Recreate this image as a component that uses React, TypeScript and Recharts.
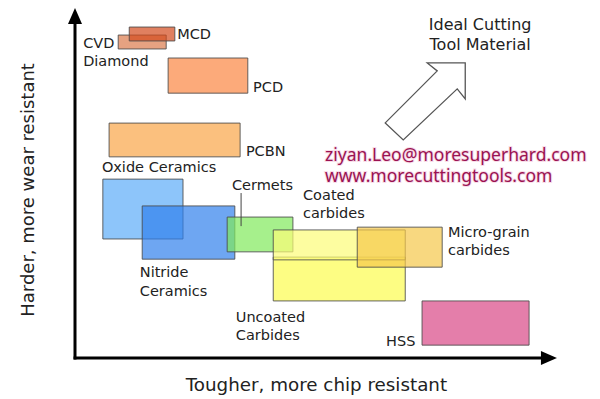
import React from "react";
import {
  ScatterChart,
  Scatter,
  XAxis,
  YAxis,
  ReferenceArea,
  ReferenceLine,
  ReferenceDot,
} from "recharts";

// material regions: toughness (x) and hardness (y), both on a 0-100 scale
const materials = [
  "CVD Diamond",
  "MCD",
  "PCD",
  "PCBN",
  "Oxide Ceramics",
  "Nitride Ceramics",
  "Cermets",
  "Uncoated Carbides",
  "Coated carbides",
  "Micro-grain carbides",
  "HSS",
];
const toughLow = [9.0, 11.3, 19.4, 7.1, 5.8, 14.0, 31.7, 41.3, 41.3, 58.8, 72.3];
const toughHigh = [19.0, 20.8, 36.0, 34.4, 22.5, 33.3, 45.4, 68.8, 68.8, 76.5, 94.6];
const hardLow = [88.8, 91.1, 76.1, 57.8, 34.2, 28.4, 30.5, 16.4, 28.2, 26.1, 3.7];
const hardHigh = [92.8, 95.1, 86.2, 67.5, 51.4, 43.7, 40.5, 29.0, 36.8, 37.6, 16.4];

const fills = [
  "#db7a4c",
  "#d34a1c",
  "#fb8641",
  "#f9a547",
  "#5cacf8",
  "#3080ec",
  "#80ea5b",
  "#fcfc4f",
  "#fcfc77",
  "#f5c74a",
  "#d84786",
];

// label anchors on the same scale
const labelText = [
  "CVD", "Diamond", "MCD", "PCD", "PCBN", "Oxide Ceramics", "Cermets",
  "Coated", "carbides", "Micro-grain", "carbides", "Nitride", "Ceramics",
  "Uncoated", "Carbides", "HSS",
];
const labelX = [1.7, 1.7, 21.3, 37.1, 35.6, 5.6, 32.7, 47.5, 47.5, 77.7, 77.7, 13.5, 13.5, 33.5, 33.5, 64.8];
const labelY = [90.5, 85.3, 93.1, 77.9, 59.5, 54.9, 49.7, 46.8, 41.7, 36.2, 31.0, 24.7, 19.3, 11.8, 6.6, 4.9];

const idealText = ["Ideal Cutting", "Tool Material"];
const idealX = [84.4, 84.4];
const idealY = [95.7, 90.2];

const contactText = ["ziyan.Leo@moresuperhard.com", "www.morecuttingtools.com"];
const contactX = [52.1, 52.1];
const contactY = [58.7, 52.7];

const labels = labelText.map((text, i) => ({ text, x: labelX[i], y: labelY[i] }));
const ideal = idealText.map((text, i) => ({ text, x: idealX[i], y: idealY[i] }));
const contact = contactText.map((text, i) => ({ text, x: contactX[i], y: contactY[i] }));
const xTitle = [{ text: "Tougher, more chip resistant", x: 50.3, y: -7.5 }];
const yTitle = [{ text: "Harder, more wear resistant", x: -9.9, y: 48.3 }];

const FONT = "'DejaVu Sans', Verdana, sans-serif";

const LabelShape = (props: any) => (
  <text
    x={props.cx}
    y={props.cy}
    dominantBaseline="central"
    fontFamily={FONT}
    fontSize={14.5}
    fill="#222"
  >
    {props.payload.text}
  </text>
);

const CenterShape = (props: any) => (
  <text
    x={props.cx}
    y={props.cy}
    textAnchor="middle"
    dominantBaseline="central"
    fontFamily={FONT}
    fontSize={16}
    fill="#222"
  >
    {props.payload.text}
  </text>
);

const ContactShape = (props: any) => (
  <text
    x={props.cx}
    y={props.cy}
    dominantBaseline="central"
    fontFamily="'Noto Sans', sans-serif"
    fontSize={17.5}
    fill="#9a1252"
    stroke="#f8dbe8"
    strokeWidth={2}
    paintOrder="stroke"
  >
    {props.payload.text}
  </text>
);

const XTitleShape = (props: any) => (
  <text
    x={props.cx}
    y={props.cy}
    textAnchor="middle"
    dominantBaseline="central"
    fontFamily={FONT}
    fontSize={18.3}
    fill="#222"
  >
    {props.payload.text}
  </text>
);

const YTitleShape = (props: any) => (
  <text
    x={props.cx}
    y={props.cy}
    textAnchor="middle"
    dominantBaseline="central"
    fontFamily={FONT}
    fontSize={18}
    fill="#222"
    transform={`rotate(-90 ${props.cx} ${props.cy})`}
  >
    {props.payload.text}
  </text>
);

const UpHead = (props: any) => {
  const { cx, cy } = props;
  return <polygon points={`${cx},${cy} ${cx - 7},${cy + 16} ${cx + 7},${cy + 16}`} fill="#000" />;
};

const RightHead = (props: any) => {
  const { cx, cy } = props;
  return <polygon points={`${cx},${cy} ${cx - 16},${cy - 7} ${cx - 16},${cy + 7}`} fill="#000" />;
};

// hollow block arrow pointing up-right, anchored at its tip
const BlockArrow = (props: any) => {
  const { cx, cy } = props;
  const pts = [
    [0, 0], [-38, 0], [-28, 8], [-80, 60], [-62, 77], [-8, 26], [0, 36],
  ]
    .map(([dx, dy]) => `${cx + dx},${cy + dy}`)
    .join(" ");
  return <polygon points={pts} fill="#fff" stroke="#555" strokeWidth={1.3} />;
};

export default function App() {
  return (
    <div style={{ position: "absolute", left: 0, top: 0, background: "#fff" }}>
      <ScatterChart width={600} height={399} margin={{ top: 0, right: 0, bottom: 0, left: 0 }}>
        <XAxis type="number" dataKey="x" domain={[-15.625, 109.375]} hide />
        <YAxis type="number" dataKey="y" domain={[-11.78, 102.87]} hide />
        {materials.map((m, i) => (
          <ReferenceArea
            key={m}
            x1={toughLow[i]}
            x2={toughHigh[i]}
            y1={hardLow[i]}
            y2={hardHigh[i]}
            fill={fills[i]}
            fillOpacity={0.7}
            stroke="#4a4a4a"
            strokeOpacity={0.85}
            strokeWidth={1}
            ifOverflow="visible"
          />
        ))}
        <ReferenceLine
          segment={[{ x: 34.6, y: 47.4 }, { x: 34.6, y: 37.9 }]}
          stroke="#444"
          strokeWidth={1}
          ifOverflow="visible"
        />
        <ReferenceLine
          segment={[{ x: -0.3, y: 0 }, { x: 97.5, y: 0 }]}
          stroke="#000"
          strokeWidth={3}
          ifOverflow="visible"
        />
        <ReferenceLine
          segment={[{ x: 0, y: -0.4 }, { x: 0, y: 97 }]}
          stroke="#000"
          strokeWidth={3}
          ifOverflow="visible"
        />
        <ReferenceDot x={0} y={100.6} r={1} shape={UpHead} ifOverflow="visible" />
        <ReferenceDot x={100.4} y={0} r={1} shape={RightHead} ifOverflow="visible" />
        <ReferenceDot x={81.3} y={84.8} r={1} shape={BlockArrow} ifOverflow="visible" />
        <Scatter data={labels} shape={LabelShape} isAnimationActive={false} />
        <Scatter data={ideal} shape={CenterShape} isAnimationActive={false} />
        <Scatter data={contact} shape={ContactShape} isAnimationActive={false} />
        <Scatter data={xTitle} shape={XTitleShape} isAnimationActive={false} />
        <Scatter data={yTitle} shape={YTitleShape} isAnimationActive={false} />
      </ScatterChart>
    </div>
  );
}
